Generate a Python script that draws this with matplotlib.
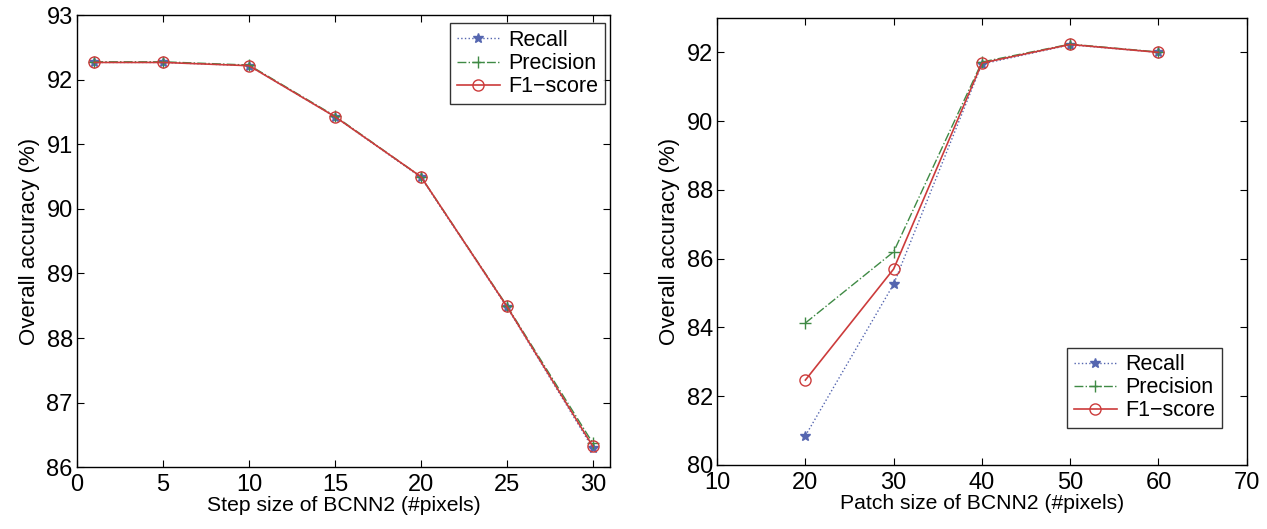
import matplotlib
matplotlib.use('Agg')
import matplotlib.pyplot as plt

plt.rcParams['font.family'] = ['Liberation Sans', 'DejaVu Sans']

# left: step size
step = [1, 5, 10, 15, 20, 25, 30]
step_recall = [92.27, 92.27, 92.22, 91.43, 90.49, 88.48, 86.29]
step_precision = [92.28, 92.28, 92.23, 91.44, 90.50, 88.50, 86.37]
step_f1 = [92.27, 92.27, 92.22, 91.43, 90.50, 88.49, 86.32]

# right: patch size
patch = [20, 30, 40, 50, 60]
patch_recall = [80.85, 85.26, 91.66, 92.22, 92.00]
patch_precision = [84.13, 86.20, 91.72, 92.24, 92.01]
patch_f1 = [82.47, 85.70, 91.69, 92.23, 92.00]

c_rec = '#5566b0'
c_pre = '#3f8a45'
c_f1 = '#cc3b3b'

fig = plt.figure(figsize=(12.67, 5.29), dpi=100)
ax1 = fig.add_axes([0.0608, 0.117, 0.4207, 0.854])
ax2 = fig.add_axes([0.566, 0.121, 0.418, 0.845])


def draw(ax, x, r, p, f):
    ax.plot(x, r, ':', color=c_rec, marker='*', ms=7, lw=1, label='Recall')
    ax.plot(x, p, '-.', color=c_pre, marker='+', ms=9, lw=1, label='Precision')
    ax.plot(x, f, '-', color=c_f1, marker='o', ms=8, mfc='none', lw=1.2, label='F1\u2212score')
    ax.tick_params(direction='in', top=True, right=True, labelsize=17, length=5, pad=3)
    ax.tick_params(axis='x', pad=5)
    for s in ax.spines.values():
        s.set_linewidth(1)


def legend(ax, loc, anchor):
    leg = ax.legend(loc=loc, bbox_to_anchor=anchor, fontsize=15.5, frameon=True,
                    fancybox=False, edgecolor='k', handlelength=2.0, borderaxespad=0,
                    labelspacing=0.1, handletextpad=0.4, borderpad=0.3)
    leg.get_frame().set_linewidth(1)


draw(ax1, step, step_recall, step_precision, step_f1)
ax1.set_xlim(0, 31)
ax1.set_ylim(86, 93)
ax1.set_xticks([0, 5, 10, 15, 20, 25, 30])
ax1.set_yticks(range(86, 94))
ax1.set_xlabel('Step size of BCNN2 (#pixels)', fontsize=15.2, labelpad=0)
ax1.set_ylabel('Overall accuracy (%)', fontsize=16, labelpad=5)
legend(ax1, 'upper right', (0.99, 0.982))

draw(ax2, patch, patch_recall, patch_precision, patch_f1)
ax2.set_xlim(10, 70)
ax2.set_ylim(80, 93)
ax2.set_xticks(range(10, 71, 10))
ax2.set_yticks(range(80, 93, 2))
ax2.set_xlabel('Patch size of BCNN2 (#pixels)', fontsize=15.2, labelpad=0)
ax2.set_ylabel('Overall accuracy (%)', fontsize=16, labelpad=5)
legend(ax2, 'lower right', (0.953, 0.083))

fig.savefig('out.png', dpi=100)
